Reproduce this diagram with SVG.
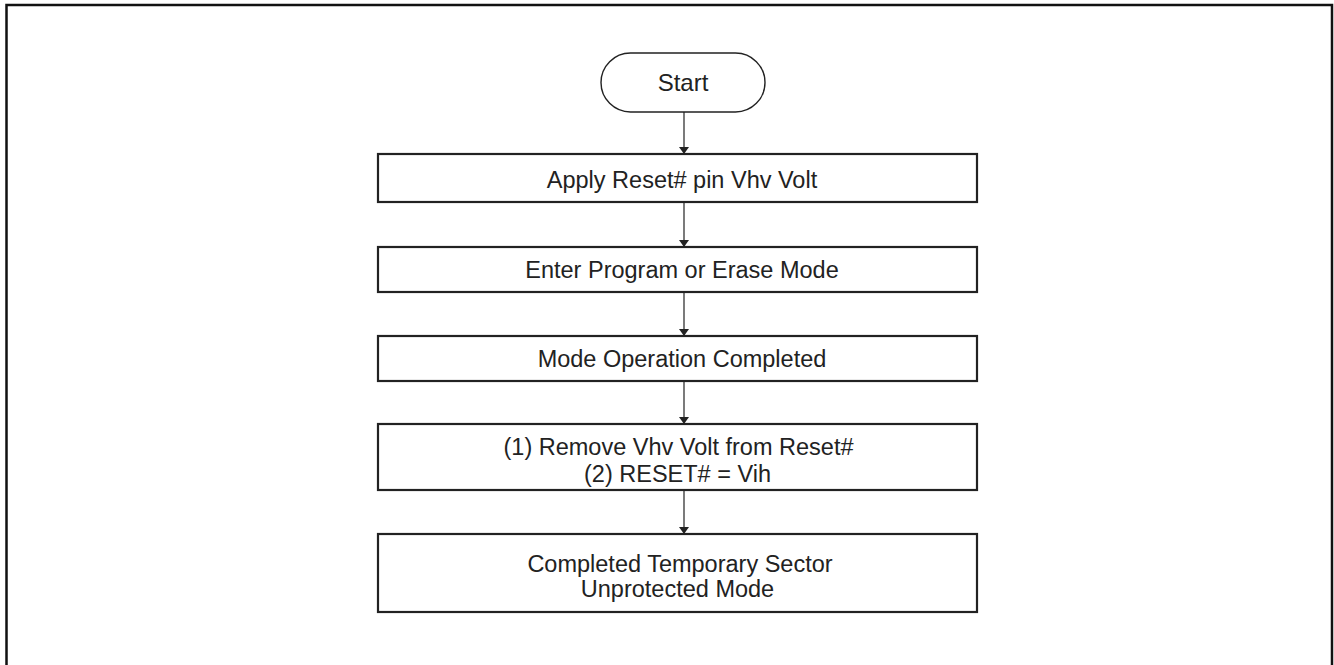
<svg xmlns="http://www.w3.org/2000/svg" width="1334" height="665" viewBox="0 0 1334 665">
<style>
.box{fill:#fff;stroke:#222;stroke-width:2.2}
.term{fill:#fff;stroke:#222;stroke-width:1.4}
.t{font-family:"Liberation Sans",Arial,sans-serif;font-size:23.5px;fill:#222;text-anchor:middle}
.c{stroke:#222;stroke-width:1.2;fill:none}
</style>
<defs>
<marker id="ah" markerWidth="7" markerHeight="10" refX="6" refY="5" orient="auto" markerUnits="userSpaceOnUse" viewBox="0 0 7 10">
<path d="M0,0 L7,5 L0,10 Z" fill="#222" transform="translate(0,0)"/>
</marker>
</defs>
<rect width="1334" height="665" fill="#fff"/>
<path d="M6.5,670 V5 H1332 V670" fill="none" stroke="#111" stroke-width="2.5"/>
<g id="connectors">
<line class="c" x1="684" y1="112" x2="684" y2="153" marker-end="url(#ah)"/>
<line class="c" x1="684" y1="203" x2="684" y2="246" marker-end="url(#ah)"/>
<line class="c" x1="684" y1="293" x2="684" y2="335" marker-end="url(#ah)"/>
<line class="c" x1="684" y1="382" x2="684" y2="423" marker-end="url(#ah)"/>
<line class="c" x1="684" y1="491" x2="684" y2="533" marker-end="url(#ah)"/>
</g>
<g id="start">
<rect class="term" x="601" y="53" width="164" height="59" rx="29.5" ry="29.5"/>
<text class="t" x="683" y="90.5" style="font-size:24px">Start</text>
</g>
<g id="apply">
<rect class="box" x="378" y="154" width="599" height="48"/>
<text class="t" x="682" y="188.3">Apply Reset# pin Vhv Volt</text>
</g>
<g id="enter">
<rect class="box" x="378" y="247" width="599" height="45"/>
<text class="t" x="682" y="278.3">Enter Program or Erase Mode</text>
</g>
<g id="modeop">
<rect class="box" x="378" y="336" width="599" height="45"/>
<text class="t" x="682" y="367.3">Mode Operation Completed</text>
</g>
<g id="remove">
<rect class="box" x="378" y="424" width="599" height="66"/>
<text class="t" x="678.5" y="455">(1) Remove Vhv Volt from Reset#</text>
<text class="t" x="677.5" y="482">(2) RESET# = Vih</text>
</g>
<g id="completed">
<rect class="box" x="378" y="534" width="599" height="78"/>
<text class="t" x="680" y="572">Completed Temporary Sector</text>
<text class="t" x="677.5" y="597">Unprotected Mode</text>
</g>
</svg>
